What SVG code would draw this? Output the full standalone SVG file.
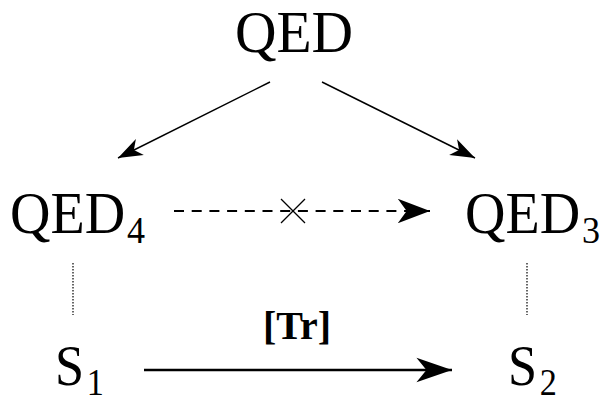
<svg xmlns="http://www.w3.org/2000/svg" width="608" height="397" viewBox="0 0 608 397">
<style>
.t{font-family:"Liberation Serif","Times New Roman",serif;fill:#000}
.ln{stroke:#000;fill:none}
.sub{font-size:38px}
</style>
<defs>
<marker id="hBig" markerUnits="userSpaceOnUse" markerWidth="40" markerHeight="30" viewBox="-34 -13 36 26" refX="0" refY="0" orient="auto">
<path d="M0,0 L-32,-11 L-23,0 L-32,11 Z" fill="#000"/>
</marker>
<marker id="hMid" markerUnits="userSpaceOnUse" markerWidth="40" markerHeight="30" viewBox="-34 -13 36 26" refX="0" refY="0" orient="auto">
<path d="M0,0 L-29,-11 L-21,0 L-29,11 Z" fill="#000"/>
</marker>
<marker id="hSmall" markerUnits="userSpaceOnUse" markerWidth="30" markerHeight="20" viewBox="-24 -9 26 18" refX="0" refY="0" orient="auto">
<path d="M0,0 L-22,-8 L-16,0 L-22,8 Z" fill="#000"/>
</marker>
</defs>
<g id="qed"><text class="t" transform="translate(294,52) scale(0.975,1)" x="0" y="0" font-size="59" text-anchor="middle">QED</text></g>
<g id="qed4"><text class="t" transform="translate(10,233) scale(0.95,1)" x="0" y="0" font-size="59">QED<tspan class="sub" dx="2" dy="10">4</tspan></text></g>
<g id="qed3"><text class="t" transform="translate(465,233) scale(0.95,1)" x="0" y="0" font-size="59">QED<tspan class="sub" dx="2" dy="10">3</tspan></text></g>
<g id="s1"><text class="t" transform="translate(55,385) scale(0.9,1)" x="0" y="0" font-size="58">S<tspan class="sub" dx="3" dy="10">1</tspan></text></g>
<g id="s2"><text class="t" transform="translate(508,385) scale(0.9,1)" x="0" y="0" font-size="58">S<tspan class="sub" dx="3" dy="10">2</tspan></text></g>
<g id="connectors">
<line class="ln" x1="270" y1="82" x2="118" y2="158" stroke-width="1.5" marker-end="url(#hSmall)"/>
<line class="ln" x1="322" y1="82" x2="475" y2="158" stroke-width="1.5" marker-end="url(#hSmall)"/>
<line class="ln" x1="174" y1="211" x2="412" y2="211" stroke-width="2.2" stroke-dasharray="10,7.7"/>
<line class="ln" x1="410" y1="211" x2="430" y2="211" stroke-width="2" marker-end="url(#hMid)"/>
<line class="ln" x1="281" y1="199" x2="305" y2="223" stroke-width="1.2"/>
<line class="ln" x1="305" y1="199" x2="281" y2="223" stroke-width="1.2"/>
<line class="ln" x1="73" y1="263" x2="73" y2="315" stroke-width="1.2" stroke="#444" stroke-dasharray="1.5,1.5"/>
<line class="ln" x1="527" y1="263" x2="527" y2="315" stroke-width="1.2" stroke="#444" stroke-dasharray="1.5,1.5"/>
<line class="ln" x1="144" y1="370" x2="452" y2="370" stroke-width="2.5" marker-end="url(#hBig)"/>
<text class="t" x="297" y="339" font-size="40" font-weight="bold" text-anchor="middle">[Tr]</text>
</g>
</svg>
